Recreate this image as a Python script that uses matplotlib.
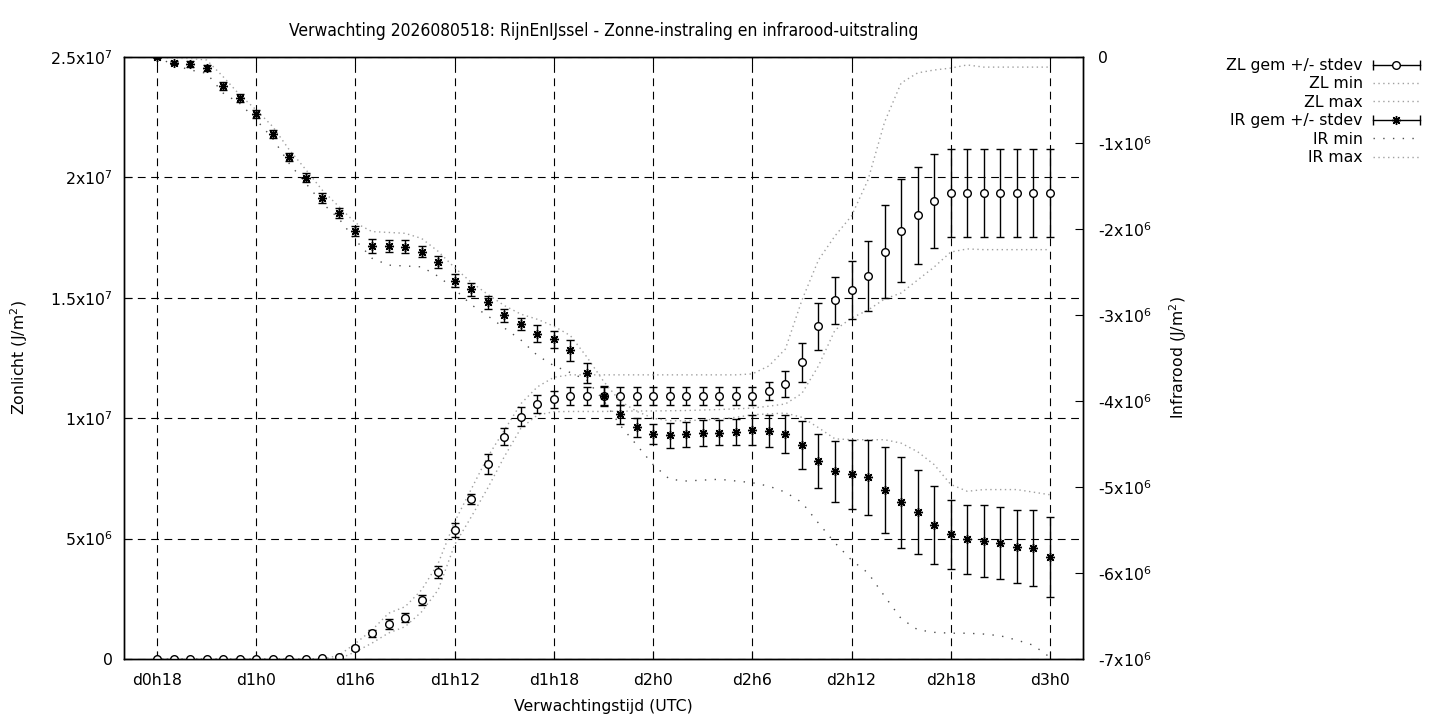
import numpy as np
import matplotlib
matplotlib.use('Agg')
import matplotlib.pyplot as plt
from matplotlib.lines import Line2D
from matplotlib.legend_handler import HandlerBase
from matplotlib.ticker import FixedLocator
from matplotlib import font_manager

# forecast hours d0h18 .. d3h0
hours = list(range(18, 73))

# Zonlicht (J/m2) x1e6, gemiddelde en stdev
zl_gem = [0, 0, 0, 0, 0, 0, 0, 0, 0, 0.01, 0.03, 0.1,
          0.47, 1.07, 1.45, 1.72, 2.45, 3.63, 5.36, 6.64, 8.09, 9.24, 10.07, 10.59,
          10.78, 10.92, 10.92, 10.92, 10.91, 10.91, 10.91, 10.91, 10.91, 10.91, 10.91, 10.91,
          10.92, 11.12, 11.42, 12.33, 13.82, 14.89, 15.32, 15.90, 16.92, 17.79, 18.43, 19.02,
          19.35, 19.35, 19.35, 19.35, 19.35, 19.35, 19.35]
zl_sd = [0, 0, 0, 0, 0, 0, 0, 0, 0, 0.01, 0.02, 0.04,
         0.08, 0.15, 0.22, 0.20, 0.21, 0.25, 0.29, 0.22, 0.42, 0.36, 0.39, 0.39,
         0.37, 0.37, 0.37, 0.37, 0.37, 0.37, 0.37, 0.37, 0.37, 0.37, 0.37, 0.37,
         0.36, 0.38, 0.55, 0.81, 0.97, 0.98, 1.20, 1.45, 1.93, 2.15, 2.02, 1.96,
         1.83, 1.83, 1.83, 1.83, 1.83, 1.83, 1.83]
zl_min = [0, 0, 0, 0, 0, 0, 0, 0, 0, 0, 0, 0,
          0.30, 0.66, 1.08, 1.34, 1.96, 2.87, 4.75, 5.90, 7.10, 8.40, 9.58, 10.13,
          10.27, 10.28, 10.28, 10.28, 10.29, 10.30, 10.30, 10.31, 10.32, 10.34, 10.36, 10.39,
          10.42, 10.50, 10.59, 11.03, 12.17, 13.66, 14.16, 14.49, 14.95, 15.20, 15.74, 16.28,
          16.90, 17.03, 17.00, 17.00, 17.00, 17.00, 17.00]
zl_max = [0, 0, 0, 0, 0, 0, 0, 0, 0, 0, 0, 0.15,
          0.65, 1.20, 1.90, 2.17, 2.87, 3.97, 5.70, 7.05, 8.40, 9.50, 10.60, 11.30,
          11.70, 11.80, 11.80, 11.80, 11.80, 11.80, 11.80, 11.80, 11.80, 11.80, 11.80, 11.80,
          11.84, 12.17, 12.87, 14.90, 16.57, 17.57, 18.40, 19.90, 22.30, 23.92, 24.34, 24.46,
          24.54, 24.67, 24.58, 24.58, 24.58, 24.58, 24.58]

# Infrarood (J/m2) x1e6
ir_gem = [-0.005, -0.066, -0.081, -0.124, -0.337, -0.48, -0.663, -0.899, -1.159, -1.403, -1.643, -1.818,
          -2.023, -2.198, -2.194, -2.206, -2.264, -2.38, -2.60, -2.701, -2.853, -3.004, -3.108, -3.216,
          -3.283, -3.41, -3.675, -3.942, -4.153, -4.308, -4.385, -4.397, -4.387, -4.372, -4.368, -4.36,
          -4.337, -4.349, -4.38, -4.512, -4.698, -4.818, -4.853, -4.888, -5.035, -5.178, -5.287, -5.442,
          -5.55, -5.608, -5.628, -5.655, -5.694, -5.713, -5.818]
ir_sd = [0.01, 0.02, 0.03, 0.035, 0.045, 0.045, 0.045, 0.045, 0.047, 0.05, 0.058, 0.058,
         0.062, 0.078, 0.07, 0.074, 0.065, 0.07, 0.08, 0.075, 0.072, 0.074, 0.068, 0.10,
         0.10, 0.124, 0.116, 0.112, 0.11, 0.112, 0.116, 0.145, 0.145, 0.15, 0.145, 0.155,
         0.172, 0.188, 0.223, 0.276, 0.315, 0.357, 0.403, 0.436, 0.50, 0.527, 0.488, 0.45,
         0.403, 0.401, 0.415, 0.419, 0.424, 0.442, 0.465]
ir_min = [0, -0.093, -0.15, -0.19, -0.42, -0.54, -0.73, -0.95, -1.24, -1.47, -1.70, -1.88,
          -2.13, -2.34, -2.42, -2.43, -2.44, -2.55, -2.70, -2.88, -3.01, -3.15, -3.29, -3.47,
          -3.59, -3.67, -3.76, -3.99, -4.28, -4.51, -4.74, -4.91, -4.93, -4.92, -4.91, -4.93,
          -4.95, -4.99, -5.06, -5.18, -5.42, -5.65, -5.85, -6.00, -6.27, -6.53, -6.66, -6.69,
          -6.70, -6.70, -6.71, -6.73, -6.78, -6.84, -6.98]
ir_max = [0, -0.016, -0.016, -0.035, -0.23, -0.44, -0.616, -0.81, -1.08, -1.31, -1.55, -1.74,
          -1.93, -2.03, -2.04, -2.05, -2.11, -2.26, -2.45, -2.62, -2.76, -2.89, -2.99, -3.05,
          -3.13, -3.24, -3.49, -3.77, -4.00, -4.12, -4.20, -4.23, -4.23, -4.22, -4.21, -4.19,
          -4.16, -4.15, -4.14, -4.19, -4.31, -4.44, -4.45, -4.45, -4.45, -4.49, -4.59, -4.74,
          -4.97, -5.05, -5.03, -5.03, -5.03, -5.06, -5.09]

xticks = [18, 24, 30, 36, 42, 48, 54, 60, 66, 72]
xticklabels = ['d0h18', 'd1h0', 'd1h6', 'd1h12', 'd1h18', 'd2h0', 'd2h6', 'd2h12', 'd2h18', 'd3h0']
y1ticks = [0, 5e6, 1e7, 1.5e7, 2e7, 2.5e7]
y1labels = ['0', '5x10$^{6}$', '1x10$^{7}$', '1.5x10$^{7}$', '2x10$^{7}$', '2.5x10$^{7}$']
y2ticks = [0, -1e6, -2e6, -3e6, -4e6, -5e6, -6e6, -7e6]
y2labels = ['0'] + ['-%dx10$^{6}$' % k for k in range(1, 8)]

title = 'Verwachting 2026080518: RijnEnIJssel - Zonne-instraling en infrarood-uitstraling'

plt.rcParams['font.family'] = ['DejaVu Sans']
plt.rcParams['font.size'] = 11.3
plt.rcParams['mathtext.fontset'] = 'dejavusans'

LIGHT = '#a0a0a0'
DARK = '#505050'
STAR = (8, 2, 0)

# titel in smalle letter als die er is
cond = font_manager.FontProperties(family='DejaVu Sans', stretch='condensed', size=12.5)
if 'ondensed' in font_manager.findfont(cond, fallback_to_default=True):
    title_font = cond
else:
    title_font = font_manager.FontProperties(family='DejaVu Sans', size=9.7)


class HandlerHBar(HandlerBase):
    # gnuplot-achtige legenda: |--o--|
    def create_artists(self, legend, orig_handle, xdescent, ydescent,
                       width, height, fontsize, trans):
        y = height / 2 - ydescent
        x0, x1 = -xdescent, width - xdescent
        bar = Line2D([x0, x1], [y, y], color='black', lw=1)
        caps = Line2D([x0, x1], [y, y], ls='none', marker='|', ms=7, mew=1, color='black')
        mk = Line2D([(x0 + x1) / 2], [y], ls='none', marker=orig_handle.get_marker(),
                    ms=orig_handle.get_markersize(), mfc=orig_handle.get_markerfacecolor(),
                    mec='black', mew=1)
        for a in (bar, caps, mk):
            a.set_transform(trans)
        return [bar, caps, mk]


fig = plt.figure(figsize=(14.4, 7.2), dpi=100)
ax = fig.add_axes([124 / 1440, 61 / 720, 959 / 1440, 602 / 720])
ax2 = ax.twinx()

e6 = lambda v: np.array(v) * 1e6

ax.plot(hours, e6(zl_min), color=LIGHT, lw=1, ls=(0, (1, 2.5)))
ax.plot(hours, e6(zl_max), color=LIGHT, lw=1, ls=(0, (1, 2.5)))
ax.errorbar(hours, e6(zl_gem), yerr=e6(zl_sd), fmt='o', ms=5.5, mfc='white', mec='black',
            mew=1, ecolor='black', elinewidth=1, capsize=3, capthick=1, zorder=3)

ax2.plot(hours, e6(ir_min), color=DARK, lw=1, ls=(0, (1, 6)))
ax2.plot(hours, e6(ir_max), color=LIGHT, lw=1, ls=(0, (1, 2.5)))
ax2.errorbar(hours, e6(ir_gem), yerr=e6(ir_sd), fmt='none', ecolor='black',
             elinewidth=1, capsize=3, capthick=1, zorder=3)
ax2.plot(hours, e6(ir_gem), ls='none', marker=STAR, ms=6.5, color='black', mew=1, zorder=4)

ax.set_xlim(16, 74)
ax.set_ylim(0, 2.5e7)
ax2.set_ylim(-7e6, 0)

ax.xaxis.set_major_locator(FixedLocator(xticks))
ax.set_xticklabels(xticklabels)
ax.yaxis.set_major_locator(FixedLocator(y1ticks))
ax.set_yticklabels(y1labels)
ax2.yaxis.set_major_locator(FixedLocator(y2ticks))
ax2.set_yticklabels(y2labels)

ax.grid(True, color='black', lw=0.8, ls=(0, (7, 5)))
ax.tick_params(axis='x', direction='in', length=6, top=True, pad=10)
ax.tick_params(axis='y', direction='in', length=6, pad=8)
ax2.tick_params(axis='y', direction='in', length=6, pad=11)
for a in (ax, ax2):
    for s in a.spines.values():
        s.set_linewidth(1)

ax.set_title(title, pad=15, fontproperties=title_font)
ax.set_xlabel('Verwachtingstijd (UTC)')
ax.xaxis.set_label_coords(0.5, -0.066)
ax.set_ylabel('Zonlicht (J/m$^{2}$)')
ax.yaxis.set_label_coords(-0.098, 0.5)
ax2.set_ylabel('Infrarood (J/m$^{2}$)')
ax2.yaxis.set_label_coords(1.088, 0.5)

zl_proxy = Line2D([], [], marker='o', ms=5.5, mfc='white', mec='black', color='black')
ir_proxy = Line2D([], [], marker=STAR, ms=6.5, mfc='black', mec='black', color='black')
handles = [zl_proxy,
           Line2D([], [], color=LIGHT, lw=1, ls=(0, (1, 2.5))),
           Line2D([], [], color=LIGHT, lw=1, ls=(0, (1, 2.5))),
           ir_proxy,
           Line2D([], [], color=DARK, lw=1, ls=(0, (1, 6))),
           Line2D([], [], color=LIGHT, lw=1, ls=(0, (1, 2.5)))]
labels = ['ZL gem +/- stdev', 'ZL min', 'ZL max', 'IR gem +/- stdev', 'IR min', 'IR max']
fig.legend(handles, labels, loc='upper right', bbox_to_anchor=(1420 / 1440, 1 - 58 / 720),
           frameon=False, markerfirst=False, borderpad=0, borderaxespad=0,
           handlelength=3.0, handletextpad=0.65, labelspacing=0.22,
           handler_map={zl_proxy: HandlerHBar(), ir_proxy: HandlerHBar()})

fig.savefig('out.png', dpi=100)
